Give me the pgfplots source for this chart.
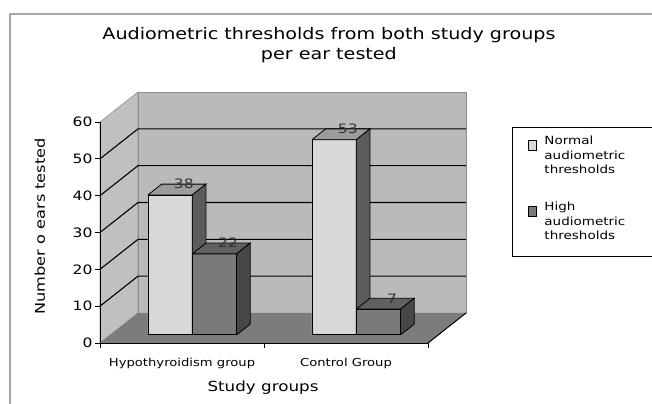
\documentclass[border=0pt]{standalone}
\usepackage{pgfplots}
\pgfplotsset{compat=1.18}
\usepackage{fontspec}
\setmainfont{DejaVu Sans}[FakeStretch=1.2]
\newcommand\DX{0.2317}
\newcommand\DY{8.15}
\definecolor{wallc}{HTML}{BABABA}
\definecolor{sidewallc}{HTML}{C0C0C0}
\definecolor{floorc}{HTML}{7C7C7C}
\definecolor{lightfront}{HTML}{D8D8D8}
\definecolor{lighttop}{HTML}{9C9C9C}
\definecolor{lightside}{HTML}{5C5C5C}
\definecolor{darkfront}{HTML}{7A7A7A}
\definecolor{darktop}{HTML}{606060}
\definecolor{darkside}{HTML}{474747}
% #1 u0, #2 u1, #3 value, #4 front, #5 top, #6 side
\newcommand\cuboid[6]{%
\addplot[fill=#4, draw=black, line width=0.8bp, forget plot] table[row sep=\\, x expr=\thisrow{u}+\DX*\thisrow{d}, y expr=\thisrow{v}+\DY*\thisrow{d}] {u d v\\ #1 0.27 0\\ #2 0.27 0\\ #2 0.27 #3\\ #1 0.27 #3\\ #1 0.27 0\\};
\addplot[fill=#5, draw=black, line width=0.8bp, forget plot] table[row sep=\\, x expr=\thisrow{u}+\DX*\thisrow{d}, y expr=\thisrow{v}+\DY*\thisrow{d}] {u d v\\ #1 0.27 #3\\ #2 0.27 #3\\ #2 0.63 #3\\ #1 0.63 #3\\ #1 0.27 #3\\};
\addplot[fill=#6, draw=black, line width=0.8bp, forget plot] table[row sep=\\, x expr=\thisrow{u}+\DX*\thisrow{d}, y expr=\thisrow{v}+\DY*\thisrow{d}] {u d v\\ #2 0.27 0\\ #2 0.63 0\\ #2 0.63 #3\\ #2 0.27 #3\\ #2 0.27 0\\};
}
\newcommand\legtext[1]{\begin{tabular}[t]{@{\hspace{5bp}}p{91bp}@{}}#1\end{tabular}}
\begin{document}
\begin{tikzpicture}
\path[use as bounding box] (0,0) rectangle (652bp,404bp);
\fill[white] (0,0) rectangle (652bp,404bp);
\draw[black!35, line width=1.3bp] (10bp,0) -- (10bp,390bp) -- (652bp,390bp);
\begin{axis}[
  at={(100bp,61bp)}, anchor=origin,
  x=164bp, y=3.683bp,
  xmin=0, xmax=2, ymin=0, ymax=60,
  axis lines=left, axis line style={-, line width=1bp},
  axis on top,
  clip=false,
  ytick={0,10,...,60},
  xtick={0,1,2}, xticklabels={},
  tick align=outside, major tick length=5bp,
  tick style={black, line width=0.9bp},
  /pgf/number format/assume math mode=true,
  yticklabel style={font=\fontsize{13}{13}\selectfont, xshift=1bp},
  extra x ticks={0.5,1.5},
  extra x tick labels={Hypothyroidism group, Control Group},
  extra x tick style={major tick length=0pt, tick label style={font=\fontsize{11}{12}\selectfont, yshift=-12bp}},
  title={Audiometric thresholds from both study groups\\per ear tested},
  title style={font=\fontsize{16}{19.5}\selectfont, align=center, at={(axis description cs:0.698,1.321)}, anchor=center},
  xlabel={Study groups},
  xlabel style={font=\fontsize{14}{16}\selectfont, at={(axis description cs:0.497,-0.204)}, anchor=center},
  ylabel={Number o ears tested},
  ylabel style={font=\fontsize{13.5}{16}\selectfont, at={(axis description cs:-0.183,0.528)}, anchor=center},
  legend style={at={(axis description cs:1.256,0.977)}, anchor=north west, draw=black, line width=1bp,
    font=\fontsize{11.3}{14.5}\selectfont, inner xsep=16bp, inner ysep=5bp, row sep=13bp,
    nodes={text depth=39bp}},
  legend cell align=left,
  legend image code/.code={\draw[#1, line width=1bp] (0bp,9bp) rectangle (8bp,18.5bp);},
]
% left side wall
\addplot[fill=sidewallc, draw=black!45, line width=0.6bp, forget plot] coordinates {(0,0) (0.2317,8.15) (0.2317,68.15) (0,60) (0,0)};
% back wall
\addplot[fill=wallc, draw=black!45, line width=0.6bp, forget plot] coordinates {(0.2317,8.15) (2.2317,8.15) (2.2317,68.15) (0.2317,68.15) (0.2317,8.15)};
% floor
\addplot[fill=floorc, draw=none, forget plot] coordinates {(0,0) (2,0) (2.2317,8.15) (0.2317,8.15) (0,0)};
\addplot[black, line width=1bp, forget plot] coordinates {(2,0) (2.2317,8.15)};
% gridlines
\foreach \k in {10,20,30,40,50} {
  \edef\tmp{\noexpand\addplot[black, line width=1.1bp, forget plot] coordinates {(0,\k) (0.2317,\k+8.15) (2.2317,\k+8.15)};}
  \tmp
}
% bars
\cuboid{0.23}{0.50}{38}{lightfront}{lighttop}{lightside}
\cuboid{0.50}{0.77}{22}{darkfront}{darktop}{darkside}
\cuboid{1.23}{1.50}{53}{lightfront}{lighttop}{lightside}
\cuboid{1.50}{1.77}{7}{darkfront}{darktop}{darkside}
% value labels
\addplot[draw=none, mark=none, forget plot, nodes near coords, point meta=explicit symbolic,
  nodes near coords style={anchor=center, font=\fontsize{13}{13}\selectfont, text=black!80}]
  table[row sep=\\, x expr=\thisrow{u}+\DX*0.63, y expr=\thisrow{v}+\DY*0.63, meta=v] {u v\\ 0.365 38\\ 0.635 22\\ 1.365 53\\ 1.635 7\\};
\addlegendimage{fill=lightfront, draw=black}
\addlegendentry{\legtext{Normal\\audiometric\\thresholds}}
\addlegendimage{fill=darkfront, draw=black}
\addlegendentry{\legtext{High\\audiometric\\thresholds}}
\end{axis}
\end{tikzpicture}
\end{document}
